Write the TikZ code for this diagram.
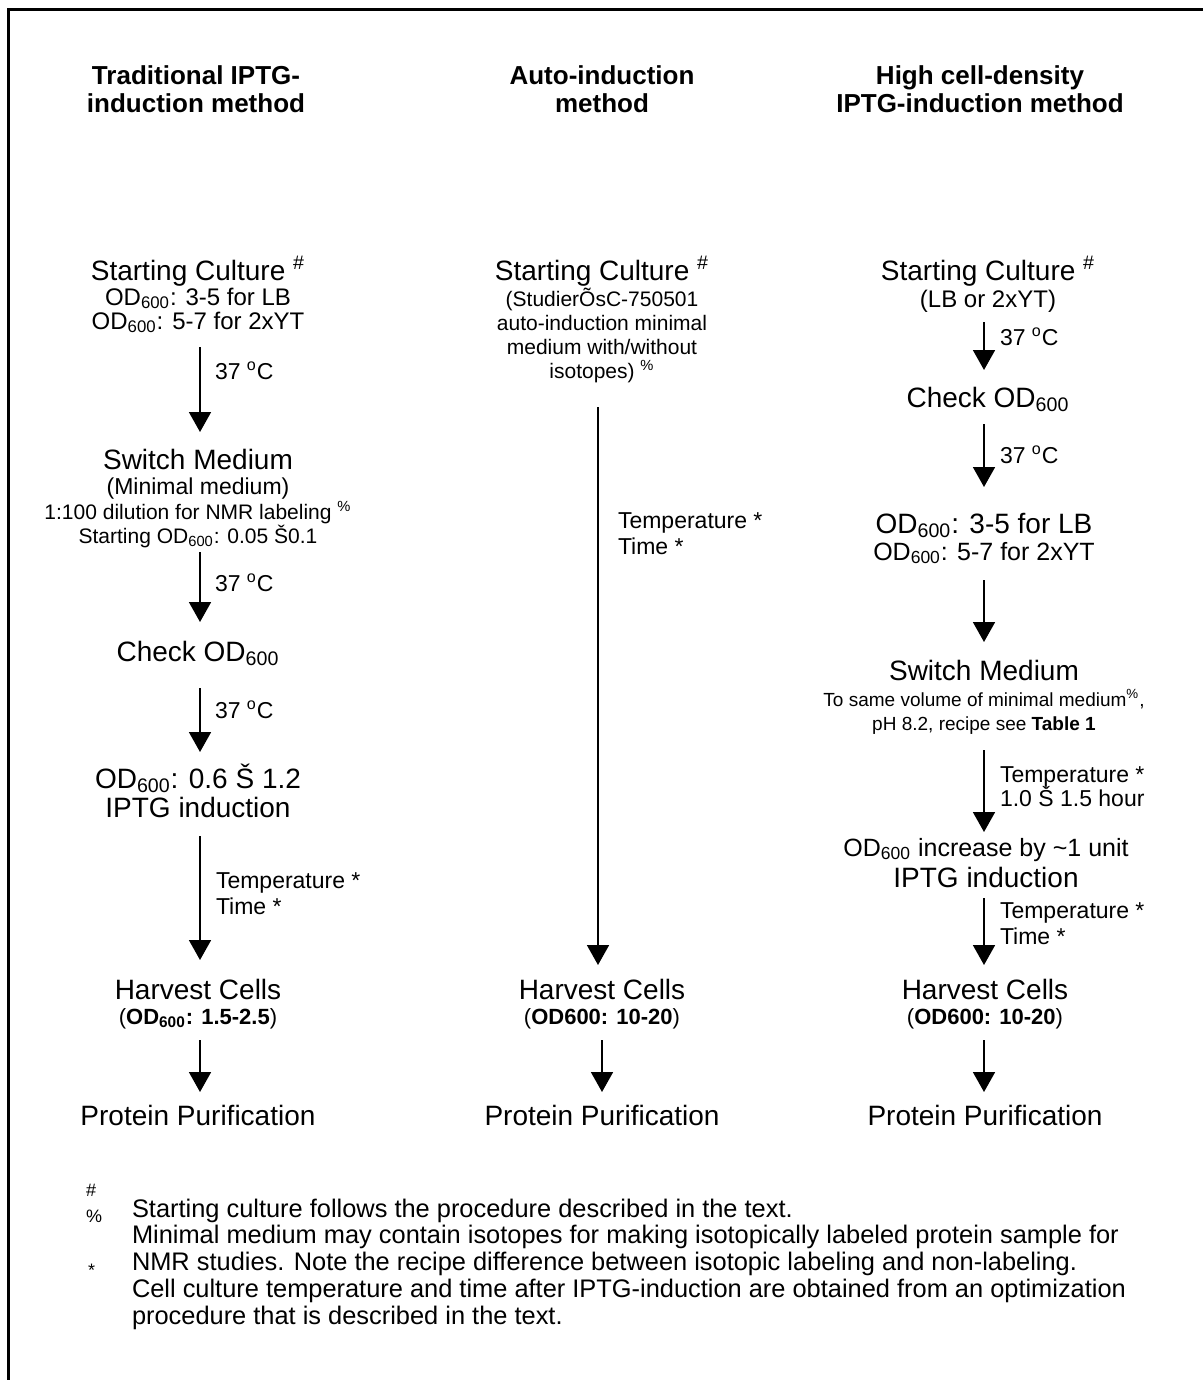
\documentclass[tikz,border=0pt]{standalone}
\usepackage{fontspec}
\setmainfont{Liberation Sans}
\usetikzlibrary{arrows.meta,calc}
\newcommand\lo[1]{\textsubscript{#1}}
\newcommand\hi[1]{\textsuperscript{#1}}
\begin{document}
\begin{tikzpicture}[x=0.5bp,y=-0.5bp,
  every node/.style={inner sep=0pt,outer sep=0pt,anchor=base},
  hd/.style={font=\fontsize{13bp}{14bp}\selectfont\bfseries},
  big/.style={font=\fontsize{14bp}{16bp}\selectfont},
  sA/.style={font=\fontsize{12.5bp}{14bp}\selectfont},
  sB/.style={font=\fontsize{12bp}{14bp}\selectfont},
  sC/.style={font=\fontsize{11.5bp}{13bp}\selectfont},
  sD/.style={font=\fontsize{11bp}{13bp}\selectfont},
  sE/.style={font=\fontsize{10.5bp}{12bp}\selectfont},
  sF/.style={font=\fontsize{9.5bp}{11bp}\selectfont},
  lab/.style={font=\fontsize{11.5bp}{13bp}\selectfont,anchor=base west},
  fn/.style={font=\fontsize{12.7bp}{14bp}\selectfont,anchor=base west},
  fnsym/.style={font=\fontsize{9bp}{10bp}\selectfont,anchor=base west},
  arr/.style={line width=0.9bp,-{Triangle[width=11bp,length=10bp]}},
  frame/.style={line width=1.5bp}
]
\useasboundingbox (0,0) rectangle (1203,1380);
\draw[frame] (8,1380) -- (8,10) -- (1203,10);

\coordinate (al) at (200,0);
\coordinate (am) at (598,0);
\coordinate (ar) at (984,0);

% headings
\node[hd] (h1a) at (196,85) {Traditional IPTG-};
\node[hd] (h1b) at (196,113) {induction method};
\node[hd] (h2a) at (602,85) {Auto-induction};
\node[hd] (h2b) at (602,113) {method};
\node[hd] (h3a) at (980,85) {High cell-density};
\node[hd] (h3b) at (980,113) {IPTG-induction method};

% left column
\node[big] (lsc1) at (198,280) {Starting Culture \hi{\#}};
\node[sB] (lsc2) at (198,305) {OD\lo{600}: 3-5 for LB};
\node[sB] (lsc3) at (198,329) {OD\lo{600}: 5-7 for 2xYT};
\node[big] (lsw1) at (198,469) {Switch Medium};
\node[sC] (lsw2) at (198,494) {(Minimal medium)};
\node[sE] (lsw3) at (198,519) {1:100 dilution for NMR labeling \hi{\%}};
\node[sE] (lsw4) at (198,543) {Starting OD\lo{600}: 0.05 Š0.1};
\node[big] (lck) at (198,661) {Check OD\lo{600}};
\node[big] (lod1) at (198,788) {OD\lo{600}: 0.6 Š 1.2};
\node[big] (lod2) at (198,817) {IPTG induction};
\node[big] (lhv1) at (198,999) {Harvest Cells};
\node[sD] (lhv2) at (198,1024) {(\textbf{OD\lo{600}: 1.5-2.5})};
\node[big] (lpp) at (198,1125) {Protein Purification};

\node[lab] (ll1) at (215,379) {37 \hi{o}C};
\node[lab] (ll2) at (215,591) {37 \hi{o}C};
\node[lab] (ll3) at (215,718) {37 \hi{o}C};
\node[lab] (ll4) at (216,888) {Temperature *};
\node[lab] (ll5) at (216,914) {Time *};

\draw[arr] ($(lsc3.base -| al)+(0,18)$) -- ($(lsw1.base -| al)+(0,-37)$);
\draw[arr] ($(lsw4.base -| al)+(0,9)$) -- ($(lck.base -| al)+(0,-39)$);
\draw[arr] ($(lck.base -| al)+(0,27)$) -- ($(lod1.base -| al)+(0,-36)$);
\draw[arr] ($(lod2.base -| al)+(0,19)$) -- ($(lhv1.base -| al)+(0,-39)$);
\draw[arr] ($(lhv2.base -| al)+(0,16)$) -- ($(lpp.base -| al)+(0,-33)$);

% middle column
\node[big] (msc1) at (602,280) {Starting Culture \hi{\#}};
\node[sE] (msc2) at (602,306) {(StudierÕsC-750501};
\node[sE] (msc3) at (602,330) {auto-induction minimal};
\node[sE] (msc4) at (602,354) {medium with/without};
\node[sE] (msc5) at (602,378) {isotopes) \hi{\%}};
\node[big] (mhv1) at (602,999) {Harvest Cells};
\node[sD] (mhv2) at (602,1024) {(\textbf{OD600: 10-20})};
\node[big] (mpp) at (602,1125) {Protein Purification};

\node[lab] (ml1) at (618,528) {Temperature *};
\node[lab] (ml2) at (618,554) {Time *};

\draw[arr] ($(msc5.base -| am)+(0,29)$) -- ($(mhv1.base -| am)+(0,-34)$);
\draw[arr] ($(mhv2.base)+(0,16)$) -- ($(mpp.base)+(0,-33)$);

% right column
\node[big] (rsc1) at (988,280) {Starting Culture \hi{\#}};
\node[sB] (rsc2) at (988,307) {(LB or 2xYT)};
\node[big] (rck) at (988,407) {Check OD\lo{600}};
\node[big] (rod1) at (984,533) {OD\lo{600}: 3-5 for LB};
\node[sA] (rod2) at (984,560) {OD\lo{600}: 5-7 for 2xYT};
\node[big] (rsw1) at (984,680) {Switch Medium};
\node[sF] (rsw2) at (984,706) {To same volume of minimal medium\hi{\%},};
\node[sF] (rsw3) at (984,730) {pH 8.2, recipe see \textbf{Table 1}};
\node[sA] (rin1) at (986,856) {OD\lo{600} increase by \textasciitilde 1 unit};
\node[big] (rin2) at (986,887) {IPTG induction};
\node[big] (rhv1) at (985,999) {Harvest Cells};
\node[sD] (rhv2) at (985,1024) {(\textbf{OD600: 10-20})};
\node[big] (rpp) at (985,1125) {Protein Purification};

\node[lab] (rl1) at (1000,345) {37 \hi{o}C};
\node[lab] (rl2) at (1000,463) {37 \hi{o}C};
\node[lab] (rl3) at (1000,782) {Temperature *};
\node[lab] (rl4) at (1000,806) {1.0 Š 1.5 hour};
\node[lab] (rl5) at (1000,918) {Temperature *};
\node[lab] (rl6) at (1000,944) {Time *};

\draw[arr] ($(rsc2.base -| ar)+(0,15)$) -- ($(rck.base -| ar)+(0,-37)$);
\draw[arr] ($(rck.base -| ar)+(0,17)$) -- ($(rod1.base -| ar)+(0,-46)$);
\draw[arr] ($(rod2.base -| ar)+(0,20)$) -- ($(rsw1.base -| ar)+(0,-38)$);
\draw[arr] ($(rsw3.base -| ar)+(0,20)$) -- ($(rin1.base -| ar)+(0,-24)$);
\draw[arr] ($(rin2.base -| ar)+(0,11)$) -- ($(rhv1.base -| ar)+(0,-34)$);
\draw[arr] ($(rhv2.base -| ar)+(0,16)$) -- ($(rpp.base -| ar)+(0,-33)$);

% footnotes
\node[fnsym] (s1) at (86,1196) {\#};
\node[fnsym] (s2) at (86,1222) {\%};
\node[fnsym] (s3) at (88,1276) {*};
\node[fn] (f1) at (132,1217) {Starting culture follows the procedure described in the text.};
\node[fn] (f2) at (132,1243) {Minimal medium may contain isotopes for making isotopically labeled protein sample for};
\node[fn] (f3) at (132,1270) {NMR studies. Note the recipe difference between isotopic labeling and non-labeling.};
\node[fn] (f4) at (132,1297) {Cell culture temperature and time after IPTG-induction are obtained from an optimization};
\node[fn] (f5) at (132,1324) {procedure that is described in the text.};
\end{tikzpicture}
\end{document}
